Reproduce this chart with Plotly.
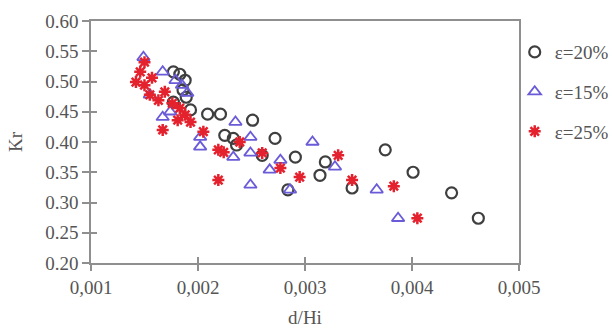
import plotly.graph_objects as go

# ε=20% (circles)
d20 = [0.00177, 0.00188, 0.00186, 0.00189, 0.00177, 0.00193, 0.00183, 0.00209, 0.00221, 0.00251,
       0.00225, 0.00233, 0.00236, 0.00272, 0.00260, 0.00291, 0.00284, 0.00319, 0.00314, 0.00344,
       0.00375, 0.00401, 0.00437, 0.00462]
kr20 = [0.516, 0.502, 0.486, 0.474, 0.466, 0.453, 0.512, 0.446, 0.446, 0.436,
        0.411, 0.406, 0.395, 0.406, 0.378, 0.375, 0.321, 0.367, 0.345, 0.324,
        0.387, 0.350, 0.316, 0.274]

# ε=15% (triangles)
d15 = [0.00149, 0.00167, 0.00155, 0.00174, 0.00167, 0.00185, 0.00190, 0.00179, 0.00202, 0.00202,
       0.00235, 0.00249, 0.00249, 0.00233, 0.00267, 0.00277, 0.00249, 0.00286, 0.00307, 0.00328,
       0.00367, 0.00387]
kr15 = [0.540, 0.516, 0.478, 0.450, 0.441, 0.494, 0.481, 0.502, 0.408, 0.392,
        0.433, 0.408, 0.382, 0.375, 0.354, 0.370, 0.329, 0.321, 0.400, 0.359,
        0.321, 0.274]

# ε=25% (stars)
d25 = [0.00150, 0.00146, 0.00142, 0.00150, 0.00157, 0.00155, 0.00163, 0.00169, 0.00176, 0.00183,
       0.00188, 0.00193, 0.00181, 0.00167, 0.00205, 0.00219, 0.00224, 0.00219, 0.00239, 0.00260,
       0.00277, 0.00295, 0.00331, 0.00344, 0.00383, 0.00405]
kr25 = [0.532, 0.516, 0.499, 0.494, 0.506, 0.478, 0.469, 0.483, 0.464, 0.456,
        0.445, 0.433, 0.436, 0.420, 0.417, 0.387, 0.383, 0.337, 0.400, 0.382,
        0.357, 0.342, 0.378, 0.337, 0.327, 0.274]

x_ticks = [0.001, 0.002, 0.003, 0.004, 0.005]
x_tick_text = ["0,001", "0,002", "0,003", "0,004", "0,005"]
y_ticks = [0.20, 0.25, 0.30, 0.35, 0.40, 0.45, 0.50, 0.55, 0.60]

FONT = "Liberation Serif, Tinos, Times New Roman, serif"
FS = 19
TXT = "#555555"
AX = "#8f8f8f"

fig = go.Figure()
fig.add_trace(go.Scatter(x=d20, y=kr20, mode="markers", name="ε=20%", legendgroup="a",
                         marker=dict(symbol="circle-open", size=11, color="#3f3f3f", line=dict(width=2.2))))
fig.add_trace(go.Scatter(x=d15, y=kr15, mode="markers", name="ε=15%", legendgroup="b",
                         marker=dict(symbol="triangle-up-open", size=11, color="#6a5bd8", line=dict(width=1.8))))
fig.add_trace(go.Scatter(x=d25, y=kr25, mode="markers", name="ε=25%", legendgroup="c",
                         marker=dict(symbol="asterisk-open", size=10, color="#e4222e", line=dict(width=2.5, color="#e4222e"))))
# helper trace for inside-tick overlay axes
fig.add_trace(go.Scatter(x=[None], y=[None], xaxis="x2", yaxis="y2", showlegend=False, hoverinfo="skip"))

xr = [0.001, 0.005]
yr = [0.20, 0.60]
fig.update_layout(
    width=612, height=329,
    margin=dict(l=91, r=93, t=21, b=66, autoexpand=False),
    paper_bgcolor="white", plot_bgcolor="white",
    font=dict(family=FONT, size=FS, color=TXT),
    showlegend=True,
    legend=dict(x=0.99, y=0.95, xanchor="left", yanchor="top", font=dict(family=FONT, size=FS, color=TXT),
                tracegroupgap=12, bgcolor="rgba(0,0,0,0)", itemwidth=30),
    xaxis=dict(range=xr, tickvals=x_ticks, ticktext=x_tick_text, showgrid=False, zeroline=False,
               showline=True, linecolor=AX, linewidth=1.5, mirror=True,
               ticks="outside", ticklen=6, tickcolor=AX, tickwidth=1.5,
               tickfont=dict(family=FONT, size=FS, color=TXT),
               title=dict(text="d/Hi", font=dict(family=FONT, size=FS, color=TXT), standoff=14)),
    yaxis=dict(range=yr, tickvals=y_ticks, tickformat=".2f", showgrid=False, zeroline=False,
               showline=True, linecolor=AX, linewidth=1.5, mirror=True,
               ticks="outside", ticklen=7, tickcolor=AX, tickwidth=1.5,
               tickfont=dict(family=FONT, size=FS, color=TXT),
               title=dict(text="Kr", font=dict(family=FONT, size=FS, color=TXT), standoff=18)),
    xaxis2=dict(range=xr, overlaying="x", tickvals=x_ticks, showticklabels=False, showgrid=False,
                zeroline=False, ticks="inside", ticklen=6, tickcolor=AX, tickwidth=1.5, side="bottom"),
    yaxis2=dict(range=yr, overlaying="y", tickvals=y_ticks, showticklabels=False, showgrid=False,
                zeroline=False, ticks="inside", ticklen=6, tickcolor=AX, tickwidth=1.5, side="left"),
)

fig.write_html("out.html")
